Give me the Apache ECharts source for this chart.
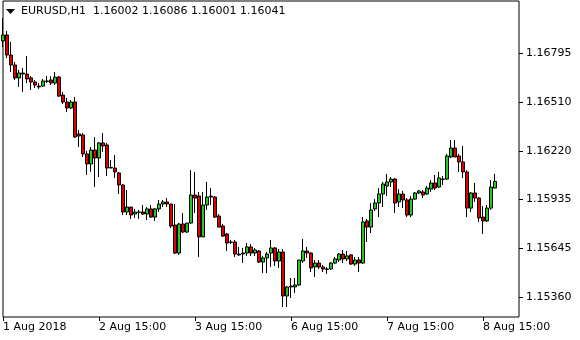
<!DOCTYPE html>
<html>
<head>
<meta charset="utf-8">
<script src="https://cdn.jsdelivr.net/npm/echarts@6/dist/echarts.min.js"></script>
<style>
html,body{margin:0;padding:0;background:#fff;}
#chart{width:580px;height:340px;}
</style>
</head>
<body>
<div id="chart"></div>
<script>
// ---- data ----
const headerSymbol = 'EURUSD,H1';
const headerValues = [1.16002, 1.16086, 1.16001, 1.16041];
const lastPrice = 1.16041;

const opens = [
1.16869,1.16904,1.16786,1.16727,1.16651,1.16674,1.16674,1.16651,1.16627,1.16603,
1.16603,1.16633,1.16639,1.16621,1.16656,1.16550,1.16509,1.16474,1.16509,1.16321,
1.16315,1.16203,1.16144,1.16226,1.16179,1.16268,1.16256,1.16123,1.16120,1.16091,
1.16020,1.15861,1.15890,1.15849,1.15861,1.15861,1.15849,1.15879,1.15831,1.15879,
1.15908,1.15920,1.15908,1.15784,1.15619,1.15790,1.15743,1.15796,1.15961,1.15955,
1.15714,1.15902,1.15955,1.15949,1.15837,1.15778,1.15731,1.15684,1.15684,1.15613,
1.15619,1.15619,1.15655,1.15619,1.15631,1.15566,1.15590,1.15619,1.15649,1.15572,
1.15625,1.15366,1.15425,1.15419,1.15431,1.15572,1.15631,1.15619,1.15537,1.15560,
1.15537,1.15525,1.15525,1.15560,1.15578,1.15613,1.15584,1.15608,1.15554,1.15578,
1.15560,1.15808,1.15772,1.15879,1.15914,1.15967,1.16014,1.16038,1.16055,1.15920,
1.15967,1.15932,1.15843,1.15937,1.15973,1.15979,1.15967,1.15996,1.16032,1.16008,
1.16055,1.16055,1.16185,1.16238,1.16191,1.16156,1.16097,1.15884,1.15973,1.15943,
1.15831,1.15808,1.15884,1.16002];
const closes = [
1.16904,1.16786,1.16727,1.16651,1.16680,1.16680,1.16645,1.16627,1.16609,1.16598,
1.16633,1.16631,1.16621,1.16656,1.16544,1.16509,1.16474,1.16509,1.16303,1.16309,
1.16203,1.16144,1.16226,1.16179,1.16268,1.16250,1.16120,1.16120,1.16097,1.16020,
1.15861,1.15890,1.15843,1.15861,1.15859,1.15849,1.15879,1.15831,1.15879,1.15908,
1.15920,1.15908,1.15778,1.15619,1.15790,1.15743,1.15796,1.15961,1.15943,1.15714,
1.15902,1.15949,1.15949,1.15831,1.15772,1.15719,1.15678,1.15682,1.15613,1.15608,
1.15613,1.15655,1.15619,1.15637,1.15566,1.15590,1.15613,1.15649,1.15572,1.15625,
1.15366,1.15419,1.15419,1.15431,1.15578,1.15631,1.15619,1.15531,1.15560,1.15537,
1.15525,1.15523,1.15560,1.15584,1.15613,1.15584,1.15602,1.15554,1.15578,1.15560,
1.15802,1.15772,1.15873,1.15914,1.15967,1.16026,1.16038,1.16055,1.15914,1.15967,
1.15932,1.15843,1.15937,1.15973,1.15985,1.15961,1.16002,1.16032,1.16002,1.16061,
1.16053,1.16191,1.16238,1.16185,1.16156,1.16097,1.15884,1.15973,1.15943,1.15826,
1.15808,1.15884,1.16008,1.16041];
const lows = [
1.16833,1.16768,1.16686,1.16639,1.16598,1.16568,1.16621,1.16580,1.16592,1.16586,
1.16598,1.16621,1.16609,1.16609,1.16539,1.16497,1.16450,1.16468,1.16297,1.16244,
1.16185,1.16079,1.16097,1.16008,1.16067,1.16215,1.16073,1.16120,1.16061,1.15967,
1.15843,1.15843,1.15820,1.15826,1.15820,1.15843,1.15814,1.15826,1.15808,1.15861,
1.15890,1.15890,1.15767,1.15613,1.15608,1.15737,1.15737,1.15790,1.15855,1.15596,
1.15714,1.15873,1.15902,1.15826,1.15772,1.15714,1.15631,1.15672,1.15596,1.15602,
1.15560,1.15602,1.15602,1.15602,1.15560,1.15501,1.15501,1.15537,1.15543,1.15531,
1.15301,1.15301,1.15354,1.15384,1.15425,1.15560,1.15590,1.15507,1.15478,1.15525,
1.15507,1.15496,1.15519,1.15554,1.15566,1.15560,1.15572,1.15549,1.15543,1.15507,
1.15554,1.15684,1.15737,1.15867,1.15831,1.15890,1.15955,1.16008,1.15855,1.15890,
1.15884,1.15831,1.15831,1.15932,1.15967,1.15943,1.15961,1.15979,1.15990,1.16002,
1.16020,1.16049,1.16179,1.16185,1.16097,1.16061,1.15831,1.15861,1.15920,1.15802,
1.15731,1.15802,1.15873,1.16001];
const highs = [
1.17004,1.16928,1.16863,1.16745,1.16698,1.16710,1.16780,1.16662,1.16639,1.16621,
1.16645,1.16662,1.16662,1.16686,1.16662,1.16568,1.16533,1.16521,1.16539,1.16344,
1.16326,1.16220,1.16244,1.16303,1.16273,1.16326,1.16268,1.16167,1.16197,1.16097,
1.16026,1.15990,1.15890,1.15879,1.15873,1.15902,1.15890,1.15902,1.15884,1.15932,
1.15932,1.15943,1.15908,1.15908,1.15796,1.15855,1.15796,1.16108,1.16097,1.15979,
1.15979,1.16038,1.16002,1.15955,1.15849,1.15790,1.15737,1.15696,1.15696,1.15655,
1.15649,1.15678,1.15672,1.15649,1.15637,1.15602,1.15625,1.15696,1.15655,1.15643,
1.15643,1.15425,1.15472,1.15472,1.15578,1.15702,1.15655,1.15625,1.15578,1.15578,
1.15549,1.15537,1.15566,1.15596,1.15619,1.15637,1.15631,1.15613,1.15596,1.15596,
1.15831,1.15820,1.15914,1.15937,1.16002,1.16038,1.16085,1.16067,1.16061,1.15996,
1.15985,1.15943,1.15955,1.15979,1.15990,1.15990,1.16014,1.16049,1.16079,1.16097,
1.16073,1.16203,1.16285,1.16285,1.16203,1.16250,1.16108,1.15979,1.16032,1.15949,
1.15896,1.15902,1.16049,1.16086];

const yTicks = [1.15360, 1.15645, 1.15935, 1.16220, 1.16510, 1.16795];
const xTickTimes = ['2018-08-01 15:00','2018-08-02 15:00','2018-08-03 15:00','2018-08-06 15:00','2018-08-07 15:00','2018-08-08 15:00'];
const xTickTexts = ['1 Aug 2018','2 Aug 15:00','3 Aug 15:00','6 Aug 15:00','7 Aug 15:00','8 Aug 15:00'];
const firstBar = '2018-08-01 15:00';
const totalSlots = 130; // bars plus empty right margin (chart shift)

// ---- build hourly categories (weekdays only) ----
function fmt(d){
  const p = n => String(n).padStart(2,'0');
  return d.getUTCFullYear()+'-'+p(d.getUTCMonth()+1)+'-'+p(d.getUTCDate())+' '+p(d.getUTCHours())+':00';
}
const categories = [];
let t = Date.parse(firstBar.replace(' ','T')+':00Z');
while (categories.length < totalSlots) {
  const d = new Date(t);
  const wd = d.getUTCDay();
  if (wd !== 0 && wd !== 6) categories.push(fmt(d));
  t += 3600000;
}
const candleData = opens.map((o,i) => [o, closes[i], lows[i], highs[i]]);

const FONT = '"DejaVu Sans", Verdana, sans-serif';
const isTick = (idx, val) => xTickTimes.indexOf(val) >= 0;

const chart = echarts.init(document.getElementById('chart'), null, {renderer:'canvas'});
chart.setOption({
  animation: false,
  backgroundColor: '#fff',
  grid: {left:3, right:61, top:1, bottom:23, show:true, borderColor:'#000', borderWidth:1, backgroundColor:'#fff'},
  xAxis: {
    type:'category', data: categories, boundaryGap:false,
    axisLine:{show:false},
    axisTick:{show:true, interval:isTick, length:4, lineStyle:{color:'#000'}},
    axisLabel:{interval:isTick, formatter: v => xTickTexts[xTickTimes.indexOf(v)], align:'left',
      color:'#000', fontSize:11, fontFamily:FONT, margin:5},
    splitLine:{show:false}
  },
  yAxis: {
    type:'value', position:'right', scale:true,
    min:1.152421, max:1.171043,
    axisLine:{show:false},
    splitLine:{show:false},
    axisTick:{show:true, customValues:yTicks, length:4, lineStyle:{color:'#000'}},
    axisLabel:{customValues:yTicks, formatter: v => v.toFixed(5), color:'#000', fontSize:11, fontFamily:FONT, margin:7}
  },
  graphic: [
    {type:'polygon', shape:{points:[[6,9],[15,9],[10.5,14]]}, style:{fill:'#000'}},
    {type:'text', left:21, top:6, style:{text:headerSymbol, font:'11px '+FONT, fill:'#000'}},
    {type:'text', left:93, top:6, style:{text:headerValues.map(v=>v.toFixed(5)).join(' '), font:'11px '+FONT, fill:'#000'}}
  ],
  series: [{
    type:'candlestick',
    data: candleData,
    barWidth: 3,
    clip: false,
    itemStyle:{color:'#22cc22', color0:'#e00000', borderColor:'#000', borderColor0:'#000', borderWidth:1},
    markLine:{
      silent:true, symbol:['none','none'],
      lineStyle:{opacity:0},
      label:{show:true, position:'end', distance:2, formatter: () => lastPrice.toFixed(5),
        backgroundColor:'#000', color:'#fff', fontSize:11, fontFamily:FONT, padding:[2,4,1,5]},
      data:[{yAxis:lastPrice}]
    }
  }]
});
</script>
</body>
</html>
